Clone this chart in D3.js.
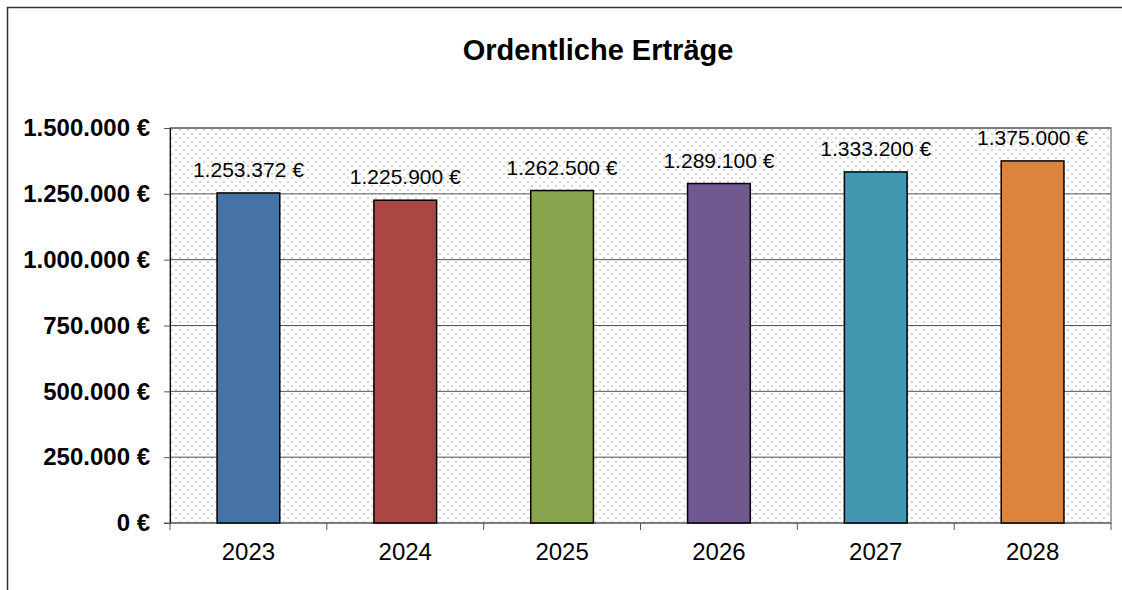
<!DOCTYPE html>
<html>
<head>
<meta charset="utf-8">
<script src="https://cdn.jsdelivr.net/npm/d3@7"></script>
<style>
  body { margin: 0; background: #fff; overflow: hidden; }
  svg { display: block; font-family: "Liberation Sans", Arial, sans-serif; }
</style>
</head>
<body>
<svg width="1122" height="590"></svg>
<script>
// Data
var years = ["2023", "2024", "2025", "2026", "2027", "2028"];
var values = [1253372, 1225900, 1262500, 1289100, 1333200, 1375000];
var barColors = ["#4572A7", "#AA4643", "#89A54E", "#71588F", "#4198AF", "#DB843D"];
var yTicks = [0, 250000, 500000, 750000, 1000000, 1250000, 1500000];
var title = "Ordentliche Erträge";

var svg = d3.select("svg"),
    width = +svg.attr("width"),
    height = +svg.attr("height");

var margin = {left: 170, top: 128, right: 1111, bottom: 523};

// number format like 1.253.372 €
var de = d3.formatLocale({decimal: ",", thousands: ".", grouping: [3], currency: ["", " €"]});
var fmt = de.format(",.0f");
function euro(v) { return fmt(v) + " €"; }

// outer chart border (only left and top are inside the frame)
svg.append("path")
    .attr("d", "M7.5," + height + "V7.5H" + width)
    .attr("fill", "none")
    .attr("stroke", "#333")
    .attr("stroke-width", 1.5);

// dotted background pattern
var defs = svg.append("defs");
var pat = defs.append("pattern")
    .attr("id", "dots")
    .attr("patternUnits", "userSpaceOnUse")
    .attr("x", margin.left).attr("y", margin.top)
    .attr("width", 8).attr("height", 8);
pat.append("rect").attr("width", 8).attr("height", 8).attr("fill", "#fff");
pat.append("rect").attr("x", 1).attr("y", 1).attr("width", 2).attr("height", 2).attr("fill", "#d4d4d4");
pat.append("rect").attr("x", 5).attr("y", 5).attr("width", 2).attr("height", 2).attr("fill", "#d4d4d4");

// scales
var x = d3.scaleBand()
    .domain(years)
    .range([margin.left, margin.right])
    .paddingInner(0.6)
    .paddingOuter(0.3);

var y = d3.scaleLinear()
    .domain([0, 1500000])
    .range([margin.bottom, margin.top]);

// plot area
svg.append("rect")
    .attr("x", margin.left).attr("y", margin.top)
    .attr("width", margin.right - margin.left)
    .attr("height", margin.bottom - margin.top)
    .attr("fill", "url(#dots)")
    .attr("stroke", "#888")
    .attr("stroke-width", 1.5);

// gridlines
svg.append("g")
    .selectAll("line")
    .data(yTicks.slice(1))
    .enter().append("line")
    .attr("x1", margin.left).attr("x2", margin.right)
    .attr("y1", function(d) { return y(d); })
    .attr("y2", function(d) { return y(d); })
    .attr("stroke", "#555")
    .attr("stroke-width", 1);

// y axis
var yAxis = svg.append("g")
    .attr("transform", "translate(" + margin.left + ",0)")
    .call(d3.axisLeft(y).tickValues(yTicks).tickFormat(euro).tickSize(6).tickPadding(14));
yAxis.attr("font-family", null);
yAxis.select(".domain").attr("stroke", "#000").attr("stroke-width", 1);
yAxis.selectAll(".tick line").attr("stroke", "#555");
yAxis.selectAll("text")
    .attr("font-size", "24px")
    .attr("font-weight", "bold")
    .attr("fill", "#000");

// x axis (ticks at category boundaries)
var step = (margin.right - margin.left) / years.length;
var bounds = d3.range(years.length + 1).map(function(i) { return margin.left + i * step; });
var xg = svg.append("g");
xg.append("line")
    .attr("x1", margin.left - 6).attr("x2", margin.right)
    .attr("y1", margin.bottom).attr("y2", margin.bottom)
    .attr("stroke", "#555").attr("stroke-width", 1);
xg.selectAll("line.tick")
    .data(bounds)
    .enter().append("line")
    .attr("class", "tick")
    .attr("x1", function(d) { return d; }).attr("x2", function(d) { return d; })
    .attr("y1", margin.bottom).attr("y2", margin.bottom + 7)
    .attr("stroke", "#555");
xg.selectAll("text")
    .data(years)
    .enter().append("text")
    .attr("x", function(d) { return x(d) + x.bandwidth() / 2; })
    .attr("y", margin.bottom + 37)
    .attr("text-anchor", "middle")
    .attr("font-size", "24px")
    .attr("fill", "#000")
    .text(function(d) { return d; });

// bars
svg.append("g")
    .selectAll("rect")
    .data(values)
    .enter().append("rect")
    .attr("x", function(d, i) { return x(years[i]); })
    .attr("y", function(d) { return y(d); })
    .attr("width", x.bandwidth())
    .attr("height", function(d) { return y(0) - y(d); })
    .attr("fill", function(d, i) { return barColors[i]; })
    .attr("stroke", "#000")
    .attr("stroke-width", 1.5);

// value labels
svg.append("g")
    .selectAll("text")
    .data(values)
    .enter().append("text")
    .attr("x", function(d, i) { return x(years[i]) + x.bandwidth() / 2; })
    .attr("y", function(d) { return y(d) - 16; })
    .attr("text-anchor", "middle")
    .attr("font-size", "21px")
    .attr("fill", "#000")
    .text(euro);

// title
svg.append("text")
    .attr("x", 598)
    .attr("y", 60)
    .attr("text-anchor", "middle")
    .attr("font-size", "29px")
    .attr("font-weight", "bold")
    .text(title);
</script>
</body>
</html>
